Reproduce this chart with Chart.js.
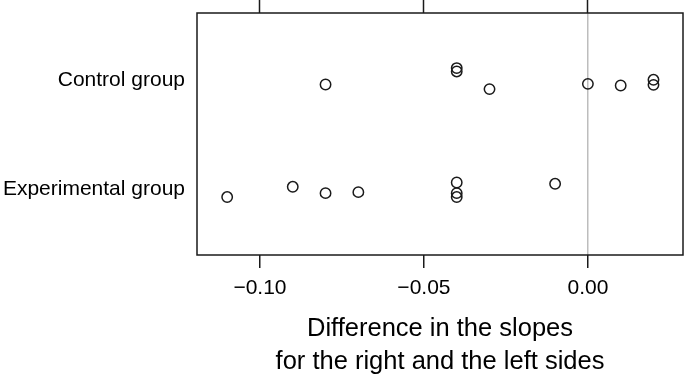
<!DOCTYPE html>
<html>
<head>
<meta charset="utf-8">
<script src="https://cdn.jsdelivr.net/npm/chart.js@4/dist/chart.umd.min.js"></script>
<style>
  html, body { margin: 0; padding: 0; background: #fff; }
  #wrap { width: 685px; height: 376px; }
</style>
</head>
<body>
<div id="wrap"><canvas id="chart-slopes" width="685" height="376"></canvas></div>
<script>
// groups sit at y = 1 (experimental) and y = 2 (control), jitter
const groupNames = ["Experimental group", "Control group"]

const controlSlopes = [-0.08, -0.04, -0.04, -0.03, 0.00, 0.01, 0.02, 0.02]
const controlJitter = [-0.043, 0.107, 0.076, -0.085, -0.037, -0.052, 0.000, -0.046]

const experimentalSlopes = [-0.11, -0.09, -0.08, -0.07, -0.04, -0.04, -0.04, -0.01]
const experimentalJitter = [-0.071, 0.023, -0.035, -0.026, 0.062, -0.035, -0.071, 0.050]

const xTicks = [-0.10, -0.05, 0.00]
const xTitle = ["Difference in the slopes", "for the right and the left sides"]

const font = "'Liberation Sans', Arial, Helvetica, sans-serif"
const ink = "#1a1a1a"

const toPoints = (xs, jit, g) => xs.map((x, i) => ({ x, y: g + jit[i] }))
const fmt = v => (v < 0 ? "\u2212" : "") + Math.abs(v).toFixed(2)

// fixed axis size, and no extra room for half labels at the ends
const fixSize = (key, px) => s => {
  s[key] = px
  s.paddingTop = 0
  s.paddingBottom = 0
  s.paddingLeft = 0
  s.paddingRight = 0
}

// frame round the plot region
const boxPlugin = {
  id: "box",
  afterDatasetsDraw(chart) {
    const { ctx, chartArea: a } = chart
    ctx.save()
    ctx.strokeStyle = ink
    ctx.lineWidth = 1.5
    ctx.strokeRect(a.left, a.top, a.right - a.left, a.bottom - a.top)
    ctx.restore()
  }
}

const dotStyle = {
  pointStyle: "circle",
  pointRadius: 5.2,
  pointHoverRadius: 5.2,
  pointBorderColor: ink,
  pointBorderWidth: 1.5,
  pointBackgroundColor: "rgba(0,0,0,0)",
  showLine: false
}

new Chart(document.getElementById("chart-slopes"), {
  type: "scatter",
  data: {
    datasets: [
      { label: groupNames[1], data: toPoints(controlSlopes, controlJitter, 2), ...dotStyle },
      { label: groupNames[0], data: toPoints(experimentalSlopes, experimentalJitter, 1), ...dotStyle }
    ]
  },
  options: {
    responsive: false,
    animation: false,
    events: [],
    layout: { autoPadding: false, padding: { left: 0, right: 2, top: 0, bottom: 0 } },
    plugins: { legend: { display: false }, tooltip: { enabled: false } },
    scales: {
      x: {
        type: "linear",
        position: "bottom",
        min: -0.1192,
        max: 0.029,
        afterBuildTicks: s => { s.ticks = xTicks.map(value => ({ value })) },
        afterFit: fixSize("height", 121),
        border: { display: false },
        grid: {
          color: c => (c.tick && c.tick.value === 0 ? "#bdbdbd" : "rgba(0,0,0,0)"),
          lineWidth: 1.5,
          tickColor: ink,
          tickWidth: 1.5,
          tickLength: 13
        },
        ticks: {
          autoSkip: false,
          maxRotation: 0,
          padding: 8,
          color: "#000",
          font: { family: font, size: 21 },
          callback: v => fmt(v)
        },
        title: {
          display: true,
          text: xTitle,
          color: "#000",
          padding: { top: 0, bottom: -2 },
          font: { family: font, size: 25.5, lineHeight: 1.28 }
        }
      },
      xTop: {
        type: "linear",
        position: "top",
        min: -0.1192,
        max: 0.029,
        afterBuildTicks: s => { s.ticks = xTicks.map(value => ({ value })) },
        afterFit: fixSize("height", 13),
        border: { display: false },
        grid: {
          drawOnChartArea: false,
          tickColor: ink,
          tickWidth: 1.5,
          tickLength: 13
        },
        ticks: { display: false }
      },
      y: {
        type: "linear",
        min: 0.4,
        max: 2.61,
        afterBuildTicks: s => { s.ticks = [{ value: 1 }, { value: 2 }] },
        afterFit: fixSize("width", 197),
        border: { display: false },
        grid: { display: false, drawTicks: false },
        ticks: {
          padding: 12,
          color: "#000",
          font: { family: font, size: 21 },
          callback: v => groupNames[v - 1]
        }
      }
    }
  },
  plugins: [boxPlugin]
})
</script>
</body>
</html>
